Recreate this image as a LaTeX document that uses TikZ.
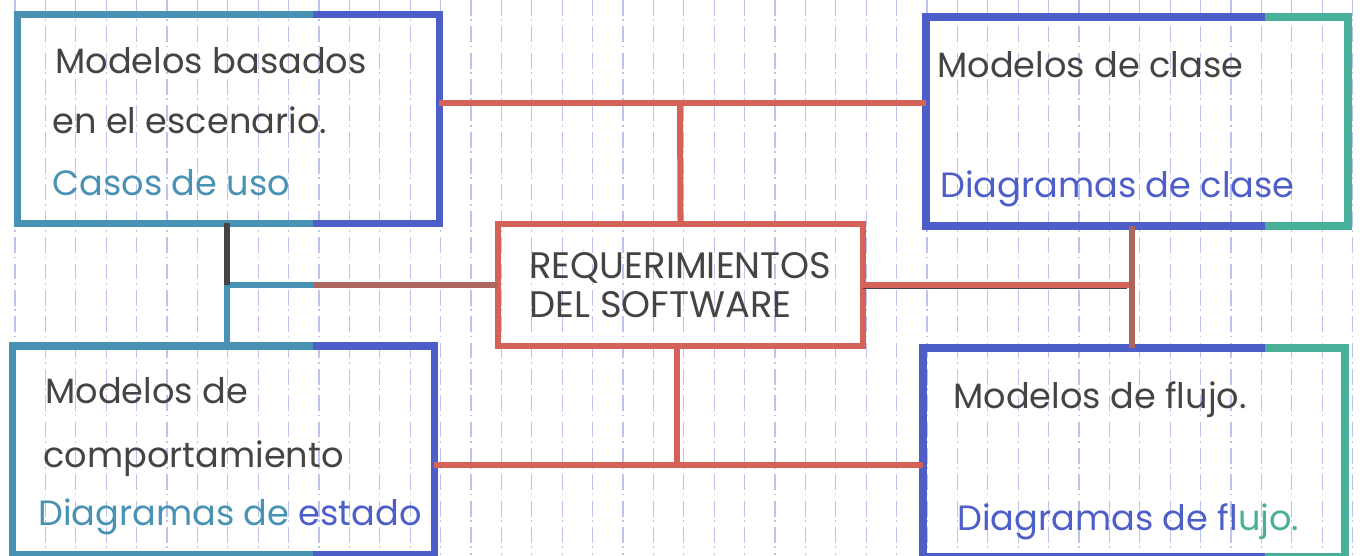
\documentclass[tikz,border=0pt]{standalone}
\usepackage{fontspec}
\setmainfont{Poppins}
\usetikzlibrary{calc}
\definecolor{paperteal}{RGB}{72,146,180}
\definecolor{paperblue}{RGB}{78,94,200}
\definecolor{papergreen}{RGB}{72,176,152}
\definecolor{penred}{RGB}{212,98,88}
\definecolor{penbrown}{RGB}{172,102,94}
\definecolor{inkgray}{RGB}{68,68,68}
\definecolor{gridblue}{RGB}{188,195,238}

\begin{document}
\begin{tikzpicture}[x=0.02cm, y=-0.02cm,
    gridline/.style={gridblue, line width=0.6pt, dash pattern=on 9pt off 2pt on 1pt off 3pt},
    modelbox/.style={draw=paperblue, line width=4.5pt, outer sep=0pt, minimum width=8.44cm, minimum height=4.18cm},
    tealedge/.style={paperteal, line width=4.5pt},
    greenedge/.style={papergreen, line width=4.5pt},
    reqbox/.style={draw=penred, line width=3.4pt, outer sep=0pt, minimum width=7.3cm, minimum height=2.44cm,
      align=left, text=inkgray, font=\fontsize{21}{22}\selectfont},
    link/.style={penred, line width=3.4pt},
    brownlink/.style={penbrown, line width=3pt},
    teallink/.style={paperteal, line width=3pt},
    inklink/.style={inkgray, line width=3pt},
    title/.style={anchor=base west, inner sep=0pt, text=inkgray, font=\fontsize{20}{24}\selectfont},
    sub/.style={title, text=paperblue}
  ]
  \useasboundingbox (0,0) rectangle (1360,555);
  \clip (0,0) rectangle (1360,555);

  % squared paper
  \foreach \gx in {0,...,44}
    \draw[gridline] (15+30.4*\gx,0) -- (15+30.4*\gx,555);

  \coordinate (split) at (313,0);
  \coordinate (split2) at (1265,0);

  % the four kinds of model
  \node[modelbox] (esc) at (228.5,119) {};
  \node[modelbox] (cla) at (1137,121.5) {};
  \node[modelbox] (comp) at (223.5,450.5) {};
  \node[modelbox] (flu) at (1134,452.5) {};
  \draw[tealedge] (esc.north west -| split) -- (esc.north west) -- (esc.south west) -- (esc.south west -| split);
  \draw[tealedge] (comp.north west -| split) -- (comp.north west) -- (comp.south west) -- (comp.south west -| split);
  \draw[greenedge] (cla.north east -| split2) -- (cla.north east) -- (cla.south east) -- (cla.south east -| split2);
  \draw[greenedge] (flu.north east -| split2) -- (flu.north east) -- (flu.south east) -- (flu.south east -| split2);

  \node[reqbox] (req) at (680.5,285) {REQUERIMIENTOS\\DEL SOFTWARE};

  % texts
  \node[title] (esc-a) at (55,73) {Modelos basados};
  \node[title] (esc-b) at (52,133) {en el escenario.};
  \node[sub, text=paperteal] (esc-c) at (52,195) {Casos de uso};
  \node[title] (cla-a) at (937,77) {Modelos de clase};
  \node[sub] (cla-b) at (940,197) {Diagramas de clase};
  \node[title] (comp-a) at (45,403) {Modelos de};
  \node[title] (comp-b) at (43,467) {comportamiento};
  \node[sub] (comp-c) at (38,525) {\textcolor{paperteal}{Diagramas de }\textcolor{paperblue}{estado}};
  \node[title] (flu-a) at (953,408) {Modelos de flujo.};
  \node[sub] (flu-b) at (957,530) {\textcolor{paperblue}{Diagramas de fl}\textcolor{papergreen}{ujo.}};

  % connectors
  \coordinate (topj) at (680,103);
  \coordinate (botj) at (677,465);
  \coordinate (leftj) at (227,285);
  \coordinate (rightj) at (1132,285);

  \draw[link] (esc.east |- topj) -- (cla.west |- topj);
  \draw[link] (topj) -- (req.north);
  \draw[link] (comp.east |- botj) -- (flu.west |- botj);
  \draw[link] (req.south -| botj) -- (botj);

  \draw[brownlink] (req.west) -- (req.west -| split);
  \draw[teallink] (req.west -| split) -- (leftj);
  \draw[inklink] (leftj) -- (esc.south -| leftj);
  \draw[teallink] (leftj) -- (comp.north -| leftj);

  \draw[link] (req.east) -- (rightj);
  \draw[inkgray, line width=0.8pt] ([yshift=-2pt]req.east) -- ([yshift=-2pt,xshift=-3pt]rightj);
  \draw[brownlink] (cla.south -| rightj) -- (flu.north -| rightj);
\end{tikzpicture}
\end{document}
